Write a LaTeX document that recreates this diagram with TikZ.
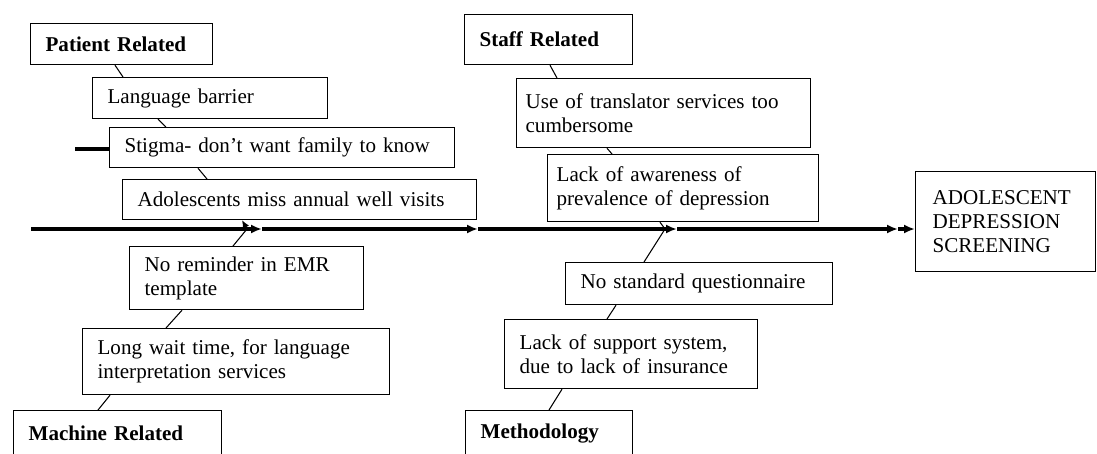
\documentclass[tikz,border=0pt]{standalone}
\usepackage{fontspec}
\setmainfont{Liberation Serif}
\usetikzlibrary{arrows.meta, calc, positioning}

\tikzset{
  cause/.style={draw, line width=0.7pt, anchor=north west, align=left, inner xsep=0.3cm, font=\fontsize{12}{13.8}\selectfont},
  head/.style={cause, font=\fontsize{12}{13.8}\selectfont\bfseries},
  bone/.style={line width=0.6pt},
  spine/.style={line width=2.2pt, -{Latex[length=0.22cm, width=0.18cm]}}
}

\begin{document}
\begin{tikzpicture}[x=0.02cm, y=-0.02cm]
\clip (0,0) rectangle (1097,453);

% patient related
\node[head, text width=3.04cm, minimum height=0.82cm] (pat) at (30,23) {Patient Related};
\node[cause, text width=4.10cm, minimum height=0.82cm] (lang) at (92,77) {Language barrier};
\node[cause, text width=6.30cm, minimum height=0.80cm] (stig) at (109,127) {Stigma- don’t want family to know};
\node[cause, text width=6.48cm, minimum height=0.80cm] (miss) at (122,179) {Adolescents miss annual well visits};

% machine related
\node[cause, text width=4.08cm, minimum height=1.26cm] (emr) at (129,246) {No reminder in EMR\\template};
\node[cause, text width=5.54cm, minimum height=1.32cm] (wait) at (82,328) {Long wait time, for language\\interpretation services};
\node[head, text width=3.56cm, minimum height=0.90cm] (mach) at (13,410) {Machine Related};

% staff related
\node[head, text width=2.76cm, minimum height=1.00cm] (staff) at (464,14) {Staff Related};
\node[cause, inner xsep=0.18cm, text width=5.52cm, minimum height=1.38cm] (transl) at (516,78) {Use of translator services too\\cumbersome};
\node[cause, inner xsep=0.18cm, text width=5.06cm, minimum height=1.34cm] (aware) at (547,154) {Lack of awareness of\\prevalence of depression};

% methodology
\node[cause, text width=4.74cm, minimum height=0.84cm] (quest) at (565,262) {No standard questionnaire};
\node[cause, text width=4.46cm, minimum height=1.38cm] (supp) at (504,319) {Lack of support system,\\due to lack of insurance};
\node[head, text width=2.74cm, minimum height=0.90cm] (meth) at (465,410) {Methodology};

% effect
\node[cause, inner xsep=0.34cm, text width=2.92cm, minimum height=2.00cm] (goal) at (915,171) {ADOLESCENT\\DEPRESSION\\SCREENING};

% spine
\coordinate (tail) at (31,229);
\foreach \a/\b in {31/262, 262/478, 478/677, 677/898}
  \draw[spine] (\a,229) -- (\b,229);
\draw[spine] (898,229) -- (goal.west |- tail);
\coordinate (stub) at (75,149);
\draw[line width=2.2pt] (stub) -- (stub -| stig.west);

% bones
\coordinate (j1) at (247,229);
\coordinate (j2) at (665,229);
\draw[bone] ($(pat.south west)+(85,0)$) -- ($(lang.north west)+(31,0)$);
\draw[bone] ($(lang.south west)+(66,0)$) -- ($(stig.north west)+(57,0)$);
\draw[bone] ($(stig.south west)+(89,0)$) -- ($(miss.north west)+(85,0)$);
\draw[bone] ($(emr.north west)+(104,0)$) -- (j1);
\draw[bone, -{Latex[length=0.16cm, width=0.14cm]}] (j1) -- ($(miss.south west)+(120,0)$);
\draw[bone] ($(emr.south west)+(53,0)$) -- ($(wait.north west)+(84,0)$);
\draw[bone] ($(wait.south west)+(28,0)$) -- ($(mach.north west)+(85,0)$);
\draw[bone] ($(staff.south west)+(86,0)$) -- ($(transl.north west)+(41,0)$);
\draw[bone] ($(transl.south west)+(91,0)$) -- ($(aware.north west)+(65,0)$);
\draw[bone] ($(aware.south west)+(113,0)$) -- (j2) -- ($(quest.north west)+(79,0)$);
\draw[bone] ($(quest.south west)+(51,0)$) -- ($(supp.north west)+(103,0)$);
\draw[bone] ($(supp.south west)+(58,0)$) -- ($(meth.north west)+(84,0)$);
\end{tikzpicture}
\end{document}
